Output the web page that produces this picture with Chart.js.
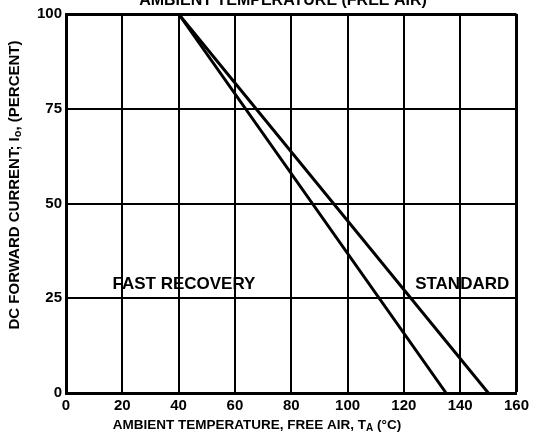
<!DOCTYPE html>
<html>
<head>
<meta charset="utf-8">
<script src="https://cdn.jsdelivr.net/npm/chart.js@4/dist/chart.umd.min.js"></script>
<style>
html,body{margin:0;padding:0;background:#fff;overflow:hidden;}
canvas{display:block;}
</style>
</head>
<body>
<canvas id="c" width="533" height="437"></canvas>
<script>
// ---- data ----
const fastTemps = [0, 40, 135];
const fastCurrent = [100, 100, 0];
const stdTemps = [0, 40, 150];
const stdCurrent = [100, 100, 0];
const xTicks = [0, 20, 40, 60, 80, 100, 120, 140, 160];
const yTicks = [0, 25, 50, 75, 100];
const curveLabels = ["FAST RECOVERY", "STANDARD"];
const curveLabelX = [16.5, 124];   // in °C (left edge of text)
const curveLabelY = [28.8, 28.8];  // in percent

const FAM = '"Liberation Sans", Arial, sans-serif';
const f = (px) => 'bold ' + px + 'px ' + FAM;

function toPoints(xs, ys){ return xs.map((x,i)=>({x:x, y:ys[i]})); }

const textPlugin = {
  id: 'texts',
  afterDraw(chart){
    const ctx = chart.ctx;
    const xs = chart.scales.x, ys = chart.scales.y;
    ctx.save();
    ctx.fillStyle = '#000';
    // curve labels
    ctx.font = f(17);
    ctx.textBaseline = 'middle';
    ctx.textAlign = 'left';
    curveLabels.forEach((t,i)=>{
      ctx.fillText(t, xs.getPixelForValue(curveLabelX[i]), ys.getPixelForValue(curveLabelY[i]));
    });
    // clipped top title
    ctx.font = f(16);
    ctx.textAlign = 'center';
    ctx.textBaseline = 'alphabetic';
    ctx.fillText('AMBIENT TEMPERATURE (FREE AIR)', 283, 5);
    // x axis title with subscript
    drawParts(ctx, [['AMBIENT TEMPERATURE, FREE AIR, T', 0], ['A', 1], [' (°C)', 0]], 257, 425, 13.5, 10);
    // y axis title (rotated)
    ctx.save();
    ctx.translate(15, 185);
    ctx.rotate(-Math.PI/2);
    drawParts(ctx, [['DC FORWARD CURRENT; I', 0], ['o', 1], [', (PERCENT)', 0]], 0, 0, 15, 11);
    ctx.restore();
    ctx.restore();
  }
};

function drawParts(ctx, parts, cx, cy, size, subSize){
  let total = 0;
  parts.forEach(p=>{ ctx.font = f(p[1] ? subSize : size); total += ctx.measureText(p[0]).width; });
  let x = cx - total/2;
  ctx.textAlign = 'left';
  ctx.textBaseline = 'middle';
  parts.forEach(p=>{
    ctx.font = f(p[1] ? subSize : size);
    ctx.fillText(p[0], x, cy + (p[1] ? 3 : 0));
    x += ctx.measureText(p[0]).width;
  });
}

const tickFont = { family: FAM, size: 15, weight: 'bold' };

new Chart(document.getElementById('c'), {
  type: 'scatter',
  data: {
    datasets: [
      { label: 'FAST RECOVERY', data: toPoints(fastTemps, fastCurrent), showLine: true,
        borderColor: '#000', borderWidth: 3, pointRadius: 0, tension: 0, fill: false },
      { label: 'STANDARD', data: toPoints(stdTemps, stdCurrent), showLine: true,
        borderColor: '#000', borderWidth: 3, pointRadius: 0, tension: 0, fill: false }
    ]
  },
  options: {
    responsive: false,
    animation: false,
    layout: { padding: { left: 0, top: 14, right: 16, bottom: 0 } },
    plugins: { legend: { display: false }, tooltip: { enabled: false }, title: { display: false } },
    scales: {
      x: {
        type: 'linear', min: 0, max: 160,
        afterBuildTicks: s => { s.ticks = xTicks.map(v=>({value:v})); },
        afterFit: s => { s.height = 44; },
        ticks: { color: '#000', font: tickFont, padding: 4, maxRotation: 0 },
        grid: { color: '#000', lineWidth: c => (c.tick && c.tick.value === 160 ? 3 : 2), drawTicks: false },
        border: { color: '#000', width: 3 }
      },
      y: {
        type: 'linear', min: 0, max: 100,
        afterBuildTicks: s => { s.ticks = yTicks.map(v=>({value:v})); },
        afterFit: s => { s.width = 66; },
        ticks: { color: '#000', font: tickFont, padding: 4 },
        grid: { color: '#000', lineWidth: c => (c.tick && c.tick.value === 100 ? 3 : 2), drawTicks: false },
        border: { color: '#000', width: 3 }
      }
    }
  },
  plugins: [textPlugin]
});
</script>
</body>
</html>
